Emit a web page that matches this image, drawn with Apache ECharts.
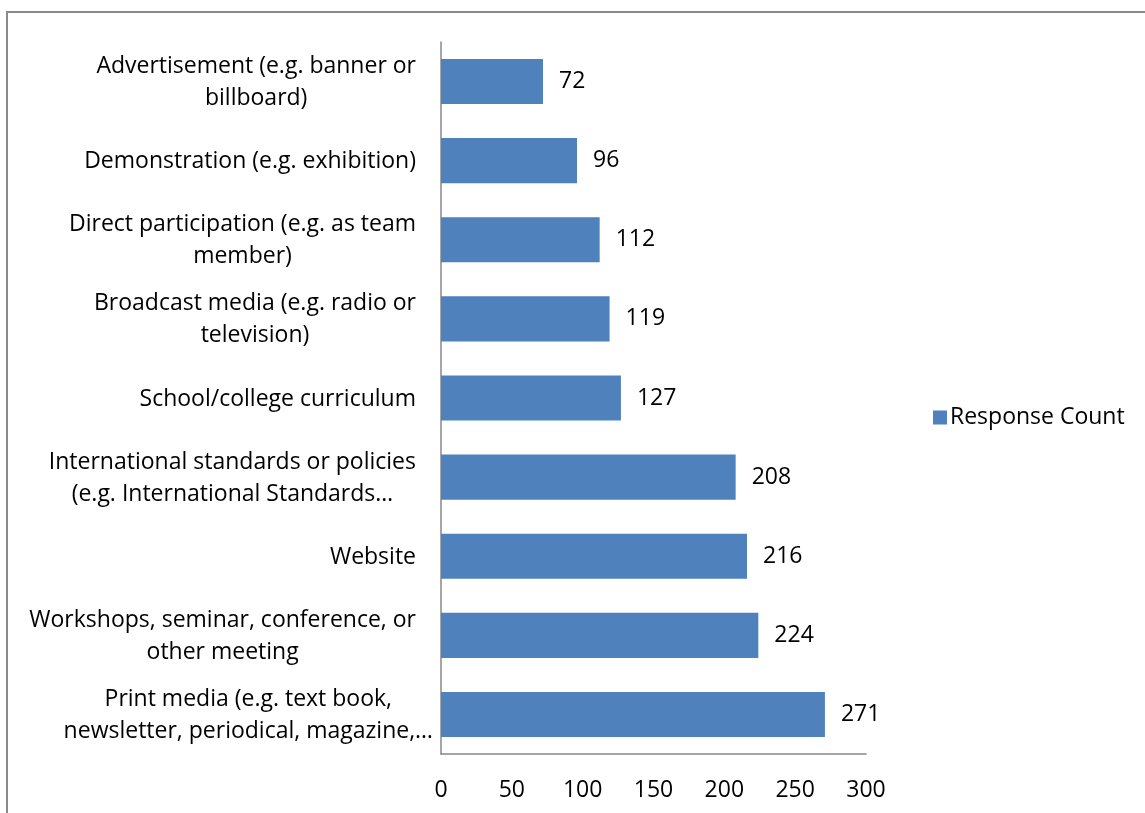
<!DOCTYPE html>
<html>
<head>
<meta charset="utf-8">
<script src="https://cdn.jsdelivr.net/npm/echarts@6/dist/echarts.min.js"></script>
<style>
html,body{margin:0;padding:0;background:#fff;}
#frame{position:absolute;left:6px;top:11px;width:1160px;height:820px;border:2px solid #8a8a8a;box-sizing:border-box;}
#chart{position:absolute;left:0;top:0;width:1145px;height:813px;}
</style>
</head>
<body>
<div id="frame"></div>
<div id="chart"></div>
<script>
const categories = [
  "Print media (e.g. text book,\nnewsletter, periodical, magazine,…",
  "Workshops, seminar, conference, or\nother meeting",
  "Website",
  "International standards or policies\n(e.g. International Standards…",
  "School/college curriculum",
  "Broadcast media (e.g. radio or\ntelevision)",
  "Direct participation (e.g. as team\nmember)",
  "Demonstration (e.g. exhibition)",
  "Advertisement (e.g. banner or\nbillboard)"
];
const responseCount = [271, 224, 216, 208, 127, 119, 112, 96, 72];
const xTicks = [0, 50, 100, 150, 200, 250, 300];
const seriesName = "Response Count";

const FONT = "Open Sans";
const FS = 23;
const chart = echarts.init(document.getElementById('chart'));
const catData = categories.map((c, i) => i === 0
  ? {value: c, textStyle: {padding: [0, -17, 0, 0]}}
  : c);
chart.setOption({
  animation: false,
  backgroundColor: 'transparent',
  textStyle: {fontFamily: FONT},
  legend: {
    data: [seriesName],
    left: 928, top: 401,
    itemWidth: 14, itemHeight: 14, itemGap: 8,
    icon: 'rect',
    textStyle: {fontSize: FS, color: '#000', fontFamily: FONT, padding:[0,0,0,-2]}
  },
  grid: {left: 441, right: 279, top: 42, bottom: 59, containLabel: false},
  xAxis: {
    type: 'value', min: xTicks[0], max: xTicks[xTicks.length-1], interval: 50,
    axisLine: {show: true, lineStyle: {color: '#888', width: 1.5}},
    axisTick: {show: false},
    splitLine: {show: false},
    axisLabel: {fontSize: FS, color: '#000', fontFamily: FONT, margin: 25}
  },
  yAxis: {
    type: 'category', data: catData,
    axisLine: {show: true, lineStyle: {color: '#888', width: 1.5}},
    axisTick: {show: false},
    axisLabel: {
      margin: 25, align: 'right', color: '#000', fontSize: FS, fontFamily: FONT, lineHeight: 32,
      formatter: v => v.split('\n').map(s => '{c|' + s + '}').join('\n'),
      rich: {c: {align: 'center', fontSize: FS, fontFamily: FONT, lineHeight: 32, color: '#000', padding: [2, 0, 0, 0]}}
    }
  },
  series: [{
    name: seriesName, type: 'bar', data: responseCount,
    barCategoryGap: '43%',
    itemStyle: {color: '#4F81BD'},
    label: {show: true, position: 'right', distance: 16, color: '#000', fontSize: FS, fontFamily: FONT, padding: [2, 0, 0, 0]}
  }]
});
</script>
</body>
</html>
